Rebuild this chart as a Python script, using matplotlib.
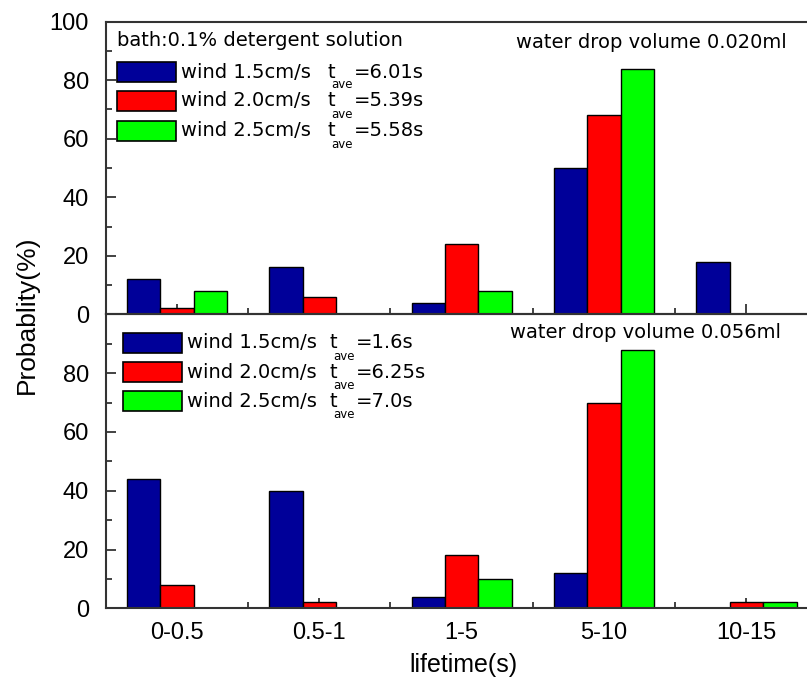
import matplotlib
matplotlib.use('Agg')
import numpy as np
import matplotlib.pyplot as plt
from matplotlib.patches import Rectangle

# data
categories = ['0-0.5', '0.5-1', '1-5', '5-10', '10-15']
top_15 = [12, 16, 4, 50, 18]
top_20 = [2, 6, 24, 68, 0]
top_25 = [8, 0, 8, 84, 0]
bot_15 = [44, 40, 4, 12, 0]
bot_20 = [8, 2, 18, 70, 2]
bot_25 = [0, 0, 10, 88, 2]
winds = ['wind 1.5cm/s', 'wind 2.0cm/s', 'wind 2.5cm/s']
top_tave = ['=6.01s', '=5.39s', '=5.58s']
bot_tave = ['=1.6s', '=6.25s', '=7.0s']
colors = ['#000099', '#ff0000', '#00ff00']

plt.rcParams['font.family'] = ['Liberation Sans', 'DejaVu Sans']

W, H = 807, 683
fig = plt.figure(figsize=(W / 100, H / 100), dpi=100)


def fx(px):
    return px / W


def fy(py):
    return 1 - py / H


left = 105.7
unit = 142.4
ax_w = 5 * unit
ax1 = fig.add_axes([fx(left), fy(314.3), fx(ax_w), (314.3 - 21.7) / H])
ax2 = fig.add_axes([fx(left), fy(608.3), fx(ax_w), (608.3 - 314.3) / H])

x = np.arange(len(categories))
bw = 0.235
for ax, series in ((ax1, (top_15, top_20, top_25)), (ax2, (bot_15, bot_20, bot_25))):
    for i, (vals, c) in enumerate(zip(series, colors)):
        ax.bar(x + (i - 1) * bw, vals, bw, color=c, edgecolor='black', linewidth=1.0, zorder=2)
    ax.set_xlim(-0.5, 4.5)
    ax.set_ylim(0, 100)
    ax.set_xticks(x)
    ax.set_xticks(x[:-1] + 0.5, minor=True)
    ax.set_yticks(np.arange(10, 100, 20), minor=True)
    ax.tick_params(which='both', direction='in', width=1.2, colors='#222222',
                   labelcolor='black', labelsize=17, pad=12)
    ax.tick_params(which='major', length=7)
    ax.tick_params(which='minor', length=4)
    for s in ax.spines.values():
        s.set_linewidth(1.5)
        s.set_color('#333333')
    ax.set_facecolor('none')

ax1.set_yticks(np.arange(0, 101, 20))
ax1.tick_params(axis='x', labelbottom=False)
ax2.set_yticks(np.arange(0, 81, 20))
ax2.set_xticklabels(categories)
ax2.tick_params(axis='x', pad=10)

fig.text(fx(27), fy(315), 'Probablity(%)', rotation=90, fontsize=19, ha='center', va='center')
fig.text(fx(463), fy(665), 'lifetime(s)', fontsize=18, ha='center', va='center')

# legends drawn by hand
lg = dict(fontsize=14, family='DejaVu Sans', va='center')
fig.text(fx(117), fy(41), 'bath:0.1% detergent solution', ha='left', **lg)
fig.text(fx(787), fy(43), 'water drop volume 0.020ml', ha='right', **lg)
fig.text(fx(781), fy(333), 'water drop volume 0.056ml', ha='right', **lg)

for rows_y, x0, tx, tvals in (([72, 101, 131], 117, 328, top_tave),
                              ([343, 372, 401], 123, 330, bot_tave)):
    for yy, wind, tv, c in zip(rows_y, winds, tvals, colors):
        fig.patches.append(Rectangle((fx(x0), fy(yy + 10)), fx(59), 20 / H, transform=fig.transFigure,
                                     facecolor=c, edgecolor='black', linewidth=1.2))
        fig.text(fx(x0 + 64), fy(yy), wind, ha='left', **lg)
        fig.text(fx(tx), fy(yy), 't', ha='left', **lg)
        fig.text(fx(tx + 3), fy(yy + 13), 'ave', ha='left', va='center', fontsize=8.5,
                 family='DejaVu Sans')
        fig.text(fx(tx + 26), fy(yy), tv, ha='left', **lg)

fig.savefig('out.png', dpi=100)
